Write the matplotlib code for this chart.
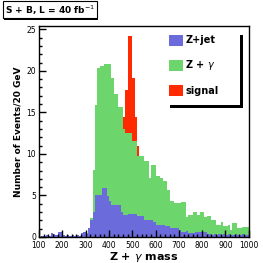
import numpy as np
import matplotlib
matplotlib.use("Agg")
import matplotlib.pyplot as plt
from matplotlib.patches import Rectangle

# 10 GeV bins from 100 to 1000 (lower edges)
edges = np.arange(100, 1000, 10)

# stacked tops
zjet = [0.0, 0.1, 0.1, 0.2, 0.1, 0.5, 0.3, 0.2, 0.6, 0.6,
        0.2, 0.1, 0.2, 0.1, 0.2, 0.1, 0.2, 0.1, 0.5, 0.6,
        0.3, 1.1, 2.0, 3.0, 5.0, 5.0, 5.1, 5.9, 5.9, 4.9,
        4.3, 3.9, 3.9, 3.9, 3.9, 3.0, 2.65, 2.65, 2.8, 2.8,
        2.8, 2.8, 2.5, 2.5, 2.5, 2.0, 2.0, 2.0, 2.0, 1.85,
        1.45, 1.45, 1.45, 1.45, 1.3, 1.3, 1.1, 1.1, 1.05, 1.05,
        0.85, 0.65, 0.65, 0.75, 0.45, 0.45, 0.5, 0.65, 0.65, 0.6,
        0.65, 0.6, 0.3, 0.3, 0.2, 0.3, 0.2, 0.3, 0.2, 0.3,
        0.2, 0.3, 0.2, 0.2, 0.3, 0.2, 0.2, 0.3, 0.2, 0.2]
zjet_zgamma = [0.0, 0.1, 0.1, 0.2, 0.1, 0.5, 0.3, 0.2, 0.6, 0.6,
               0.2, 0.1, 0.2, 0.1, 0.2, 0.1, 0.2, 0.1, 0.5, 0.6,
               0.5, 1.1, 2.3, 8.1, 15.9, 20.3, 20.6, 20.6, 20.8, 20.8,
               20.8, 19.2, 17.2, 17.2, 15.6, 15.6, 13.0, 12.5, 12.5, 12.5,
               11.5, 11.5, 9.7, 9.7, 9.7, 9.1, 9.1, 7.1, 8.7, 8.7,
               7.3, 7.3, 7.1, 6.7, 6.7, 5.7, 4.3, 4.3, 4.1, 4.1,
               4.1, 4.25, 4.25, 2.4, 2.7, 2.7, 3.05, 3.05, 2.7, 2.95,
               2.95, 2.45, 2.5, 2.5, 2.05, 2.05, 1.45, 1.45, 1.8, 1.35,
               1.35, 1.45, 0.85, 1.7, 1.7, 1.05, 1.05, 1.15, 1.15, 1.15]
signal_total = list(zjet_zgamma)
signal_total[36:43] = [14.5, 17.7, 24.2, 24.2, 19.1, 14.5, 11.0]

labels = ["Z+jet", "Z + $\\gamma$", "signal"]
colors = ["#6b6bdc", "#6cd66c", "#ff2a00"]

fig = plt.figure(figsize=(2.63, 2.63), dpi=100)
ax = fig.add_axes([0.148, 0.099, 0.798, 0.802])

h_sig = ax.bar(edges, signal_total, width=10, align="edge", color=colors[2], linewidth=0)
h_zg = ax.bar(edges, zjet_zgamma, width=10, align="edge", color=colors[1], linewidth=0)
h_zj = ax.bar(edges, zjet, width=10, align="edge", color=colors[0], linewidth=0)

ax.set_xlim(100, 1000)
ax.set_ylim(0, 25.4)
ax.set_xticks(np.arange(100, 1001, 100))
ax.set_xticks(np.arange(100, 1001, 20), minor=True)
ax.set_yticks(np.arange(0, 26, 5))
ax.set_yticks(np.arange(0, 26, 1), minor=True)
ax.tick_params(which="both", direction="in", top=False, right=False,
               labelsize=5.5, width=1.0)
ax.tick_params(axis="x", pad=3)
ax.tick_params(axis="y", pad=2)
ax.tick_params(which="major", length=5)
ax.tick_params(which="minor", length=2.5)
for s in ax.spines.values():
    s.set_linewidth(1.0)

ax.set_xlabel("Z + $\\gamma$ mass", fontsize=8, fontweight="bold", labelpad=0)
ax.set_ylabel("Number of Events/20 GeV", fontsize=6.5, fontweight="bold", labelpad=3)

# legend box with ROOT style shadow (axes fractions)
ax.add_patch(Rectangle((0.624, 0.612), 0.347, 0.346, transform=ax.transAxes,
                       facecolor="black", edgecolor="none", zorder=5.4, clip_on=False))
ax.add_patch(Rectangle((0.610, 0.626), 0.347, 0.346, transform=ax.transAxes,
                       facecolor="white", edgecolor="none", zorder=5.5, clip_on=False))

leg = ax.legend([h_zj, h_zg, h_sig], labels, loc="upper left", mode="expand",
                bbox_to_anchor=(0.61, 0.5, 0.345, 0.47), fontsize=7, frameon=False,
                handlelength=1.35, handleheight=1.35,
                borderpad=0.25, labelspacing=1.3, handletextpad=0.3,
                borderaxespad=0)
leg.set_zorder(6)
for t in leg.get_texts():
    t.set_fontweight("bold")

title = fig.text(0.018, 0.962, "S + B, L = 40 fb$^{-1}$", fontsize=6.5, fontweight="bold",
                 va="center", ha="left", zorder=10,
                 bbox=dict(boxstyle="square,pad=0.2", facecolor="white",
                           edgecolor="black", linewidth=0.8))

# shadow behind the title box
fig.canvas.draw()
bb = title.get_bbox_patch().get_window_extent()
(x0, y0), (x1, y1) = fig.transFigure.inverted().transform([[bb.x0 + 1.5, bb.y0 - 1.5], [bb.x1 + 1.5, bb.y1 - 1.5]])
fig.add_artist(Rectangle((x0, y0), x1 - x0, y1 - y0, transform=fig.transFigure,
                         facecolor="black", edgecolor="none", zorder=9))

fig.savefig("out.png", dpi=100)
